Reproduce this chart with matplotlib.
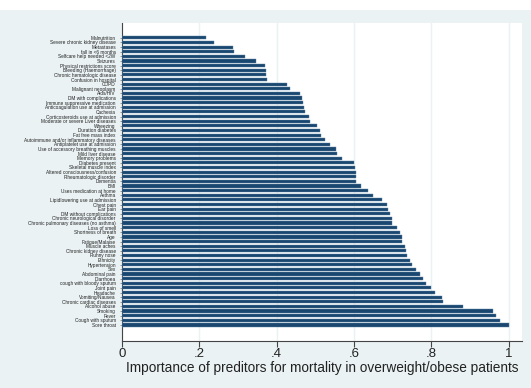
import matplotlib.pyplot as plt
from matplotlib.patches import Rectangle

# predictors, top to bottom as in the figure
predictors = [
    "Malnutrition", "Severe chronic kidney disease", "Metastases", "fall in <6 months",
    "Selfcare help needed <2W", "Seizures", "Physical restrictions score",
    "Bleeding (Haemorrhage)", "Chronic hematologic disease", "Confusion in hospital",
    "COPD", "Malignant neoplasm", "Aids/HIV", "DM with complications",
    "Immune suppressive medication", "Anticoagulation use at admission", "Cachexia",
    "Corticosteroids use at admission", "Moderate or severe Liver diseases", "Wheezing",
    "Duration diabetes", "Fat free mass index", "Autoimmune and/or inflammatory diseases",
    "Antiplatelet use at admission", "Use of accessory breathing muscles",
    "Mild liver disease", "Memory problems", "Diabetes present", "Skeletal muscle index",
    "Altered consciousness/confusion", "Rheumatologic disorder", "Dementia", "BMI",
    "Uses medication at home", "Asthma", "Lipidlowering use at admission", "Chest pain",
    "Ear pain", "DM without complications", "Chronic neurological disorder",
    "Chronic pulmonary diseases (no asthma)", "Loss of smell", "Shortness of breath",
    "Age", "Fatigue/Malaise", "Muscle aches", "Chronic kidney disease", "Runny nose",
    "Ethnicity", "Hypertension", "Sex", "Abdominal pain", "Diarrhoea",
    "cough with bloody sputum", "Joint pain", "Headache", "Vomiting/Nausea",
    "Chronic cardiac diseases", "Alcohol abuse", "Smoking", "Fever",
    "Cough with sputum", "Sore throat",
]
importance = [
    0.216, 0.238, 0.286, 0.290, 0.318, 0.346, 0.370, 0.371, 0.373, 0.374,
    0.427, 0.435, 0.461, 0.466, 0.469, 0.471, 0.473, 0.484, 0.486, 0.503,
    0.512, 0.514, 0.525, 0.537, 0.553, 0.555, 0.569, 0.599, 0.602, 0.604,
    0.605, 0.606, 0.617, 0.637, 0.650, 0.673, 0.686, 0.688, 0.694, 0.698,
    0.699, 0.711, 0.718, 0.723, 0.724, 0.732, 0.734, 0.737, 0.745, 0.750,
    0.760, 0.770, 0.778, 0.785, 0.800, 0.808, 0.826, 0.830, 0.882, 0.960,
    0.967, 0.978, 1.000,
]
x_ticks = [0, 0.2, 0.4, 0.6, 0.8, 1.0]
x_ticklabels = ["0", ".2", ".4", ".6", ".8", "1"]
x_title = "Importance of preditors for mortality in overweight/obese patients"

plt.rcParams["font.family"] = ["Liberation Sans", "DejaVu Sans"]

bg = "#eaf2f3"
navy = "#1a476f"

fig = plt.figure(figsize=(5.31, 3.88), dpi=100, facecolor=bg)
# white strip along the top edge of the picture
fig.patches.append(Rectangle((0, 1 - 10 / 388), 1, 10 / 388, transform=fig.transFigure,
                             facecolor="white", edgecolor="none", zorder=0))

ax = fig.add_axes([122 / 531, 47.3 / 388, 400 / 531, 317.7 / 388])
ax.set_facecolor("white")

pos = list(range(len(predictors)))
ax.barh(pos, importance, height=0.68, color=navy, edgecolor="#5a7fa0", linewidth=0.3, zorder=3)

ax.set_ylim(len(predictors) - 1 + 3.4, -3.2)
ax.set_xlim(0, 1.034)

ax.set_yticks(pos)
ax.set_yticklabels(predictors, fontsize=3.4, color="#222222")
ax.tick_params(axis="y", length=1.5, width=0.4, pad=3, color="#555555")

ax.set_xticks(x_ticks)
ax.set_xticklabels(x_ticklabels, fontsize=9.5, color="#222222")
ax.tick_params(axis="x", length=4, width=0.8, pad=1.5, color="#444444")
ax.set_xlabel(x_title, fontsize=9.8, color="#222222", labelpad=0.5)

ax.grid(axis="x", color=bg, linewidth=1.0, zorder=0)
ax.set_axisbelow(True)
for side in ["top", "right"]:
    ax.spines[side].set_visible(False)
for side in ["left", "bottom"]:
    ax.spines[side].set_color("#444444")
    ax.spines[side].set_linewidth(0.8)

fig.savefig("out.png", dpi=100, facecolor=bg)
